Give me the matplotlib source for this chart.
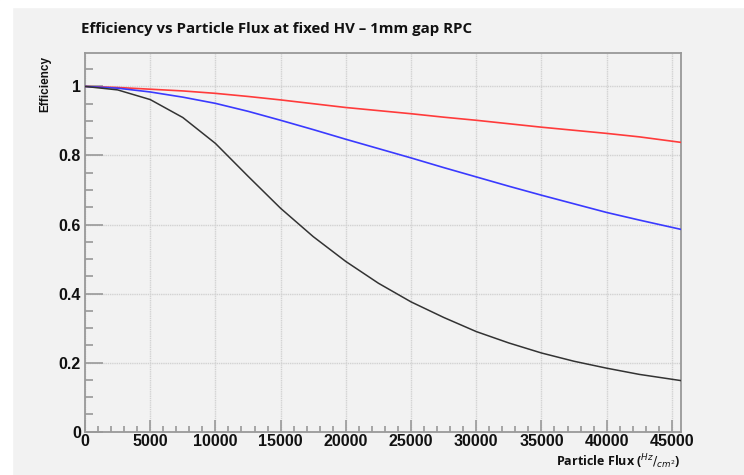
import matplotlib.pyplot as plt
import numpy as np
from matplotlib.patches import Rectangle
from matplotlib.ticker import MultipleLocator

# flux in Hz/cm^2 and efficiency
flux = [0, 2500, 5000, 7500, 10000, 12500, 15000, 17500, 20000, 22500, 25000,
        27500, 30000, 32500, 35000, 37500, 40000, 42500, 45700]
eff_red = [1.0, 0.997, 0.992, 0.987, 0.980, 0.971, 0.961, 0.950, 0.939, 0.930, 0.921,
           0.911, 0.902, 0.892, 0.882, 0.873, 0.864, 0.854, 0.838]
eff_blue = [1.0, 0.995, 0.984, 0.969, 0.951, 0.928, 0.902, 0.875, 0.847, 0.820, 0.793,
            0.765, 0.738, 0.711, 0.685, 0.660, 0.635, 0.613, 0.586]
eff_black = [1.0, 0.990, 0.962, 0.910, 0.835, 0.740, 0.647, 0.565, 0.493, 0.430, 0.376,
             0.331, 0.290, 0.257, 0.228, 0.204, 0.184, 0.166, 0.148]

BG = "#f2f2f2"
AXCOL = "#999999"

fig = plt.figure(figsize=(7.44, 4.75), dpi=100, facecolor=BG)
# white strips along the top and left edges
fig.patches.append(Rectangle((0, 1 - 7 / 475), 1, 7 / 475, transform=fig.transFigure,
                             color="white", zorder=0))
fig.patches.append(Rectangle((0, 0), 12 / 744, 1, transform=fig.transFigure,
                             color="white", zorder=0))

ax = fig.add_axes([85 / 744, 1 - 431.7 / 475, (681 - 85) / 744, (431.7 - 53.3) / 475])
ax.set_facecolor(BG)

line_kw = dict(solid_joinstyle="round", solid_capstyle="round", zorder=3)
ax.plot(flux, eff_red, color="#ff3b3b", lw=1.2, **line_kw)
ax.plot(flux, eff_blue, color="#3a3aff", lw=1.2, **line_kw)
ax.plot(flux, eff_black, color="#333333", lw=1.1, **line_kw)

ax.set_xlim(0, 45700)
ax.set_ylim(0, 1.096)

ax.xaxis.set_major_locator(MultipleLocator(5000))
ax.xaxis.set_minor_locator(MultipleLocator(1000))
ax.yaxis.set_major_locator(MultipleLocator(0.2))
ax.yaxis.set_minor_locator(MultipleLocator(0.05))
ax.yaxis.set_major_formatter(plt.FuncFormatter(lambda v, p: "0" if v == 0 else ("1" if abs(v - 1) < 1e-9 else f"{v:.1f}")))
ax.xaxis.set_major_formatter(plt.FuncFormatter(lambda v, p: f"{int(v)}"))

ax.grid(True, which="major", color="#d2d2d2", lw=1.0, linestyle=(0, (1, 0.6)), zorder=1)

for s in ax.spines.values():
    s.set_color(AXCOL)
    s.set_linewidth(1.3)

ax.tick_params(axis="both", which="both", direction="in", color=AXCOL, width=1.2)
ax.tick_params(axis="y", which="major", length=13, pad=3)
ax.tick_params(axis="y", which="minor", length=6)
ax.tick_params(axis="x", which="major", length=9, pad=2)
ax.tick_params(axis="x", which="minor", length=4.5)

for lab in ax.get_xticklabels() + ax.get_yticklabels():
    lab.set_fontfamily("Liberation Sans")
    lab.set_fontweight("bold")
    lab.set_fontsize(11.5)
    lab.set_color("#111111")

fig.text(81 / 744, 1 - 29 / 475, "Efficiency vs Particle Flux at fixed HV \u2013 1mm gap RPC",
         fontfamily="Open Sans", fontweight="bold", fontsize=10.8, color="#111111",
         ha="left", va="center")

fig.text(45 / 744, 1 - 56 / 475, "Efficiency", rotation=90, fontfamily="Liberation Sans",
         fontweight="bold", fontsize=8.5, color="#111111", ha="center", va="top")

fig.text(681 / 744, 1 - 462 / 475, r"Particle Flux ($^{Hz}/_{cm^{2}}$)",
         fontfamily="Open Sans", fontweight="bold", fontsize=9, color="#111111",
         ha="right", va="center")

fig.savefig("out.png", dpi=100, facecolor=BG)
